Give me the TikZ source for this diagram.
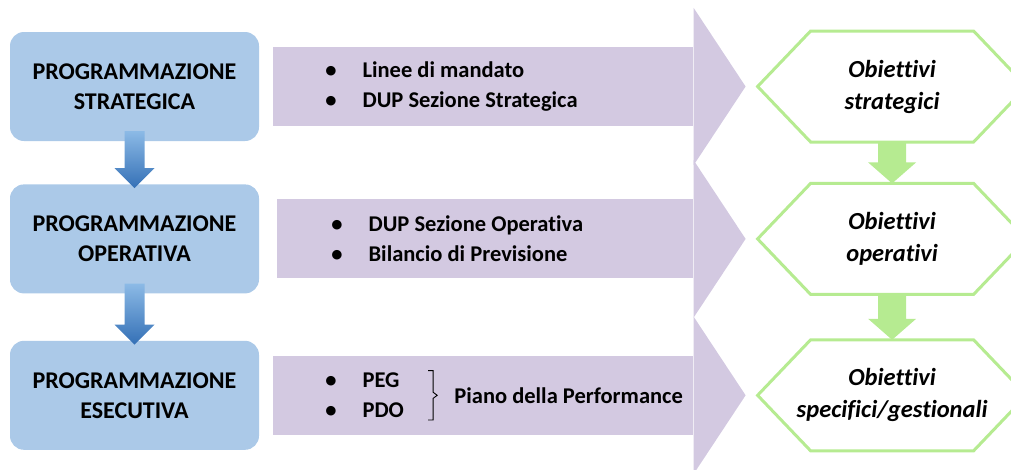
\documentclass[tikz,border=0pt]{standalone}
\usepackage{fontspec}
\setmainfont{Carlito}[Ligatures=NoCommon]
\usetikzlibrary{positioning,calc}
\definecolor{boxblue}{RGB}{171,201,232}
\definecolor{bandlilac}{RGB}{211,201,225}
\definecolor{hexgreen}{RGB}{182,235,145}
\definecolor{arrtop}{RGB}{140,186,230}
\definecolor{arrbot}{RGB}{52,112,182}
\tikzset{
  prog/.style={rectangle, rounded corners=14pt, minimum width=249pt, minimum height=109pt, text centered, align=center, fill=boxblue, font=\bfseries\fontsize{24}{30}\selectfont},
  band/.style={rectangle, minimum width=420pt, minimum height=79pt, fill=bandlilac},
  list/.style={align=left, inner sep=0pt, font=\bfseries\fontsize{22.5}{30}\selectfont},
  goal/.style={rectangle, inner sep=0pt, align=center, font=\bfseries\itshape\fontsize{24.5}{32}\selectfont},
  hexline/.style={draw=hexgreen, line width=3pt, line join=miter},
  node distance=45pt
}
\newcommand{\blt}{\textbullet\hspace{26pt}}
\begin{document}
\begin{tikzpicture}[x=1pt,y=1pt]
	\useasboundingbox (0,0) rectangle (1011,-469);
	\node[prog] (strat) at (134.5,-86.5) {PROGRAMMAZIONE\\STRATEGICA};
	\node[prog, below=43pt of strat] (oper) {PROGRAMMAZIONE\\OPERATIVA};
	\node[prog, below=47pt of oper] (esec) {PROGRAMMAZIONE\\ESECUTIVA};
	%
	\node[band, right=14pt of strat] (b1) {};
	\node[band, right=18pt of oper, minimum width=416pt] (b2) {};
	\node[band, right=14pt of esec] (b3) {};
	\fill[bandlilac] ($(b1.north east)+(0,39)$) -- ($(b1.east)+(52,0)$) -- ($(b1.south east)+(0,-39)$) -- cycle;
	\fill[bandlilac] ($(b2.north east)+(0,39)$) -- ($(b2.east)+(52,0)$) -- ($(b2.south east)+(0,-39)$) -- cycle;
	\fill[bandlilac] ($(b3.north east)+(0,39)$) -- ($(b3.east)+(52,0)$) -- ($(b3.south east)+(0,-39)$) -- cycle;
	%
	\node[list, right=52pt of b1.west] (l1) {\blt Linee di mandato\\\blt DUP Sezione Strategica};
	\node[list, right=54pt of b2.west] (l2) {\blt DUP Sezione Operativa\\\blt Bilancio di Previsione};
	\node[list, right=52pt of b3.west] (l3) {\blt PEG\\\blt PDO};
	\node[list, right=50pt of l3] (piano) {Piano della Performance};
	% bracket
	\coordinate (brt) at ($(l3.north east)+(29,2)$);
	\coordinate (brb) at ($(l3.south east)+(29,-2)$);
	\draw[line width=0.9pt] ($(brt)+(-5,0)$) -- (brt) -- ($(brt)!0.5!(brb)+(0,3)$) -- ++(4,-3) -- ++(-4,-3) -- (brb) -- ++(-5,0);
	%
	\node[goal, right=198.5pt of b1, anchor=center] (gs) {Obiettivi\\strategici};
	\node[goal, right=198.5pt of b2, anchor=center] (go) {Obiettivi\\operativi};
	\node[goal, right=198.5pt of b3, anchor=center] (ge) {Obiettivi\\specifici/gestionali};
	\draw[hexline] ($(gs)+(-81.5,55.5)$) -- ($(gs)+(81.5,55.5)$) -- ($(gs)+(134.5,0)$) -- ($(gs)+(81.5,-55.5)$) -- ($(gs)+(-81.5,-55.5)$) -- ($(gs)+(-134.5,0)$) -- cycle;
	\draw[hexline] ($(go)+(-81.5,55.5)$) -- ($(go)+(81.5,55.5)$) -- ($(go)+(134.5,0)$) -- ($(go)+(81.5,-55.5)$) -- ($(go)+(-81.5,-55.5)$) -- ($(go)+(-134.5,0)$) -- cycle;
	\draw[hexline] ($(ge)+(-81.5,55.5)$) -- ($(ge)+(81.5,55.5)$) -- ($(ge)+(134.5,0)$) -- ($(ge)+(81.5,-55.5)$) -- ($(ge)+(-81.5,-55.5)$) -- ($(ge)+(-134.5,0)$) -- cycle;
	%
	\fill[hexgreen] ($(gs)+(-14,-55.5)$) -- ($(gs)+(14,-55.5)$) -- ($(go)+(14,76.5)$) -- ($(go)+(24,76.5)$) -- ($(go)+(0,55.5)$) -- ($(go)+(-24,76.5)$) -- ($(go)+(-14,76.5)$) -- cycle;
	\fill[hexgreen] ($(go)+(-14,-55.5)$) -- ($(go)+(14,-55.5)$) -- ($(ge)+(14,76.5)$) -- ($(ge)+(24,76.5)$) -- ($(ge)+(0,55.5)$) -- ($(ge)+(-24,76.5)$) -- ($(ge)+(-14,76.5)$) -- cycle;
	%
	\shade[top color=arrtop, bottom color=arrbot] ($(strat.south)+(-10,10)$) -- ($(strat.south)+(10,10)$) -- ($(oper.north)+(10,16)$) -- ($(oper.north)+(20,16)$) -- ($(oper.north)+(0,-4)$) -- ($(oper.north)+(-20,16)$) -- ($(oper.north)+(-10,16)$) -- cycle;
	\shade[top color=arrtop, bottom color=arrbot] ($(oper.south)+(-10,10)$) -- ($(oper.south)+(10,10)$) -- ($(esec.north)+(10,16)$) -- ($(esec.north)+(20,16)$) -- ($(esec.north)+(0,-4)$) -- ($(esec.north)+(-20,16)$) -- ($(esec.north)+(-10,16)$) -- cycle;
\end{tikzpicture}
\end{document}
